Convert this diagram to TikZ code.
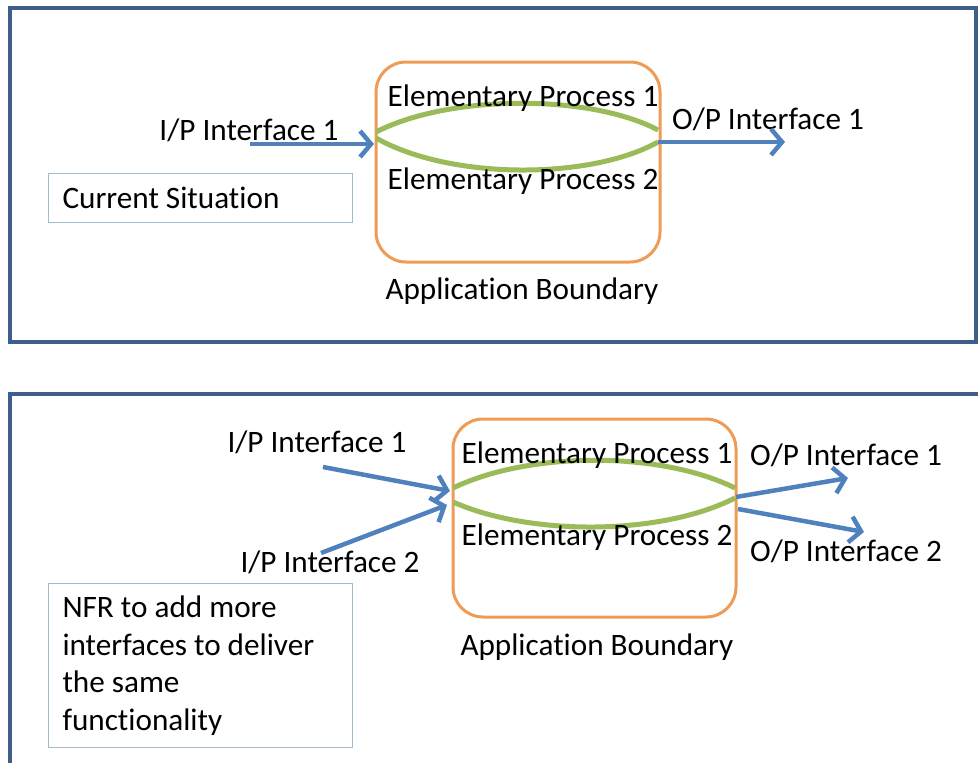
\documentclass[tikz,border=0pt]{standalone}
\usepackage{fontspec}
\setmainfont{Carlito}[Ligatures=NoCommon]
\usetikzlibrary{arrows.meta}
\definecolor{framecol}{HTML}{3F5E88}
\definecolor{arrowcol}{HTML}{4F81BD}
\definecolor{procol}{HTML}{9BBB59}
\definecolor{boundcol}{HTML}{EE9B55}
\definecolor{notecol}{HTML}{A0BCCC}
\begin{document}
\begin{tikzpicture}[x=1pt,y=-1pt,
  lbl/.style={inner sep=0pt, anchor=base, font=\fontsize{31.2}{37.5}\selectfont},
  panel/.style={draw=framecol, line width=3.5pt},
  boundary/.style={draw=boundcol, line width=3pt, rounded corners=30pt,
                   inner sep=0pt, minimum width=284pt, minimum height=200pt},
  flow/.style={draw=arrowcol, line width=4.5pt, -{Straight Barb[length=11pt,width=26pt]}},
  process/.style={draw=procol, line width=5pt},
  note/.style={draw=notecol, line width=1pt, anchor=north west, inner xsep=14pt,
               inner ysep=0pt, text width=276pt, align=flush left,
               font=\fontsize{31.2}{37.5}\selectfont},
]
\useasboundingbox (0,0) rectangle (978,763);
\clip (0,0) rectangle (978,763);

% ---------- upper panel: current situation ----------
\draw[panel] (10,8) rectangle (976,342);

\node[boundary] (ab1) at (518,162) {};
\coordinate (p1a) at (376,132);
\coordinate (p1b) at (658,130);
\coordinate (p2a) at (376,138);
\coordinate (p2b) at (658,142);
\draw[process] (p1a) .. controls (450,94) and (590,94) .. (p1b);
\draw[process] (p2a) .. controls (450,180) and (590,180) .. (p2b);

\node[lbl] (ep1) at (523,106) {Elementary Process 1};
\node[lbl] (ep2) at (523,189) {Elementary Process 2};
\node[lbl] (bnd1) at (522,299) {Application Boundary};

\node[lbl] (ip1) at (249,140) {I/P Interface 1};
\coordinate (ip1s) at (250,144);
\coordinate (ip1e) at (374,144);
\draw[flow] (ip1s) -- (ip1e);

\node[lbl] (op1) at (768,129) {O/P Interface 1};
\coordinate (op1s) at (658,142);
\coordinate (op1e) at (785,142);
\draw[flow] (op1s) -- (op1e);

\node[note, minimum height=49pt] (cur) at (48,173) {Current Situation};

% ---------- lower panel: added interfaces ----------
\draw[panel] (10,394) rectangle (1000,800);

\node[boundary, minimum width=283pt, minimum height=198pt] (ab2) at (594.5,518) {};
\coordinate (q1a) at (453,488);
\coordinate (q1b) at (735,488);
\coordinate (q2a) at (453,502);
\coordinate (q2b) at (735,498);
\draw[process] (q1a) .. controls (530,451) and (660,451) .. (q1b);
\draw[process] (q2a) .. controls (530,536) and (660,536) .. (q2b);

\node[lbl] (ep3) at (597,463) {Elementary Process 1};
\node[lbl] (ep4) at (597,545) {Elementary Process 2};
\node[lbl] (bnd2) at (597,655) {Application Boundary};

\node[lbl] (ip2) at (317,452) {I/P Interface 1};
\node[lbl] (ip3) at (330,572) {I/P Interface 2};
\coordinate (ip2s) at (323,467);
\coordinate (ip2e) at (450,491);
\coordinate (ip3s) at (321,553);
\coordinate (ip3e) at (447,505);
\draw[flow] (ip2s) -- (ip2e);
\draw[flow] (ip3s) -- (ip3e);

\node[lbl] (op2) at (846,465) {O/P Interface 1};
\node[lbl] (op3) at (846,561) {O/P Interface 2};
\coordinate (op2s) at (736,497);
\coordinate (op2e) at (848,478);
\coordinate (op3s) at (738,509);
\coordinate (op3e) at (864,532);
\draw[flow] (op2s) -- (op2e);
\draw[flow] (op3s) -- (op3e);

\node[note, minimum height=164pt] (nfr) at (48,583)
  {NFR to add more\\interfaces to deliver\\the same\\functionality};
\end{tikzpicture}
\end{document}
